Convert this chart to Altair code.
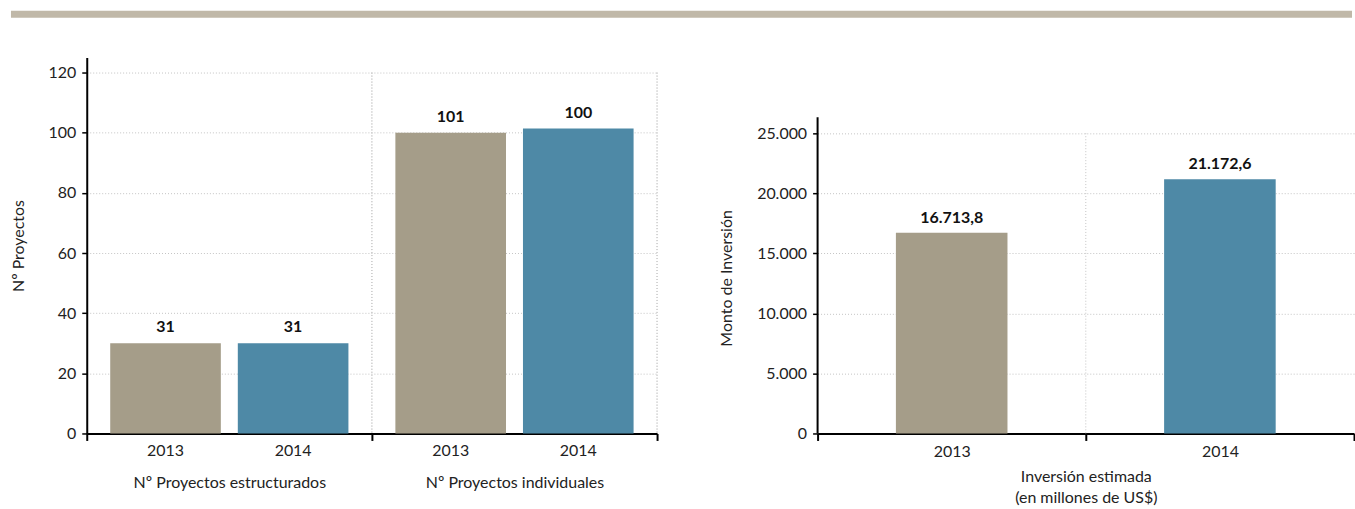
import altair as alt
import pandas as pd

# ---------------- data ----------------
proj_groups = ["Nº Proyectos estructurados", "Nº Proyectos estructurados",
               "Nº Proyectos individuales", "Nº Proyectos individuales"]
proj_years = ["2013", "2014", "2013", "2014"]
proj_values = [30, 30, 100, 101.4]          # bar heights as drawn
proj_labels = ["31", "31", "101", "100"]    # printed labels
proj_ticks = [0, 20, 40, 60, 80, 100, 120]

inv_years = ["2013", "2014"]
inv_values = [16713.8, 21172.6]
inv_labels = ["16.713,8", "21.172,6"]
inv_ticks = [0, 5000, 10000, 15000, 20000, 25000]

FONT = "Lato"
C2013 = "#a59d89"
C2014 = "#4e89a6"
GRID = "#c4c4c4"
BAND = "#c0b8a8"
TXT = "#222222"

proj_df = pd.DataFrame({"group": proj_groups, "year": proj_years,
                        "value": proj_values, "label": proj_labels})
inv_df = pd.DataFrame({"year": inv_years, "value": inv_values, "label": inv_labels})

color_scale = alt.Scale(domain=["2013", "2014"], range=[C2013, C2014])

# ---------------- left chart ----------------
xl_scale = alt.Scale(paddingInner=0, paddingOuter=0)
xl_axis = alt.Axis(title=None, tickBand="extent", domainColor="black",
                   domainWidth=2, tickColor="black", tickWidth=2, tickSize=7,
                   labelPadding=34, labelAngle=0, labelLimit=400, grid=False)
yl_scale = alt.Scale(domain=[0, 125], nice=False)
yl_axis = alt.Axis(values=proj_ticks, title="Nº Proyectos", domainColor="black",
                   domainWidth=2, tickColor="black", tickSize=5, tickWidth=1.5,
                   labelPadding=6, titlePadding=22, grid=True,
                   gridColor=GRID, gridDash=[1, 2])

x_left = alt.X("group:N", scale=xl_scale, axis=xl_axis)
xoff_left = alt.XOffset("year:N", scale=alt.Scale(paddingInner=0.133, paddingOuter=0.184))
y_left = alt.Y("value:Q", scale=yl_scale, axis=yl_axis)

left_bars = alt.Chart(proj_df).mark_bar().encode(
    x=x_left, xOffset=xoff_left, y=y_left,
    color=alt.Color("year:N", scale=color_scale, legend=None))

left_vals = alt.Chart(proj_df).mark_text(fontWeight="bold", fontSize=16,
                                         baseline="alphabetic", dy=-11, color="#111").encode(
    x=x_left, xOffset=xoff_left, y=y_left, text="label:N")

left_years = alt.Chart(proj_df).mark_text(fontSize=16, baseline="middle", color=TXT).encode(
    x=x_left, xOffset=xoff_left, y=alt.value(395), text="year:N")

left_sep = alt.Chart(proj_df).mark_rule(color=GRID, strokeDash=[1, 2]).encode(
    x=alt.X("group:N", bandPosition=1, scale=xl_scale, axis=xl_axis),
    y=alt.datum(120), y2=alt.datum(0))

left = alt.layer(left_bars, left_sep, left_vals, left_years).properties(width=572, height=377)

# ---------------- right chart ----------------
xr_scale = alt.Scale(paddingInner=0, paddingOuter=0)
xr_axis = alt.Axis(title=["Inversión estimada", "(en millones de US$)"],
                   tickBand="extent", domainColor="black", domainWidth=2,
                   tickColor="black", tickWidth=2, tickSize=7, labelPadding=3,
                   labelAngle=0, titlePadding=9, titleFontSize=16,
                   titleLineHeight=21, grid=False)
yr_scale = alt.Scale(domain=[0, 31300], nice=False)
yr_axis = alt.Axis(values=inv_ticks, title="Monto de Inversión", domain=False,
                   labelExpr="replace(format(datum.value, ','), ',', '.')",
                   tickColor="black", tickSize=5, tickWidth=1.5, labelPadding=6,
                   titlePadding=22, titleY=221, grid=True, gridColor=GRID,
                   gridDash=[1, 2])
x_right = alt.X("year:N", scale=xr_scale, axis=xr_axis)
y_right = alt.Y("value:Q", scale=yr_scale, axis=yr_axis)

right_bars = alt.Chart(inv_df).mark_bar(width=alt.RelativeBandSize(0.416)).encode(
    x=x_right, y=y_right,
    color=alt.Color("year:N", scale=color_scale, legend=None))

right_vals = alt.Chart(inv_df).mark_text(fontWeight="bold", fontSize=16,
                                         baseline="alphabetic", dy=-10, color="#111").encode(
    x=x_right, y=y_right, text="label:N")

right_sep = alt.Chart(inv_df).transform_filter("datum.year == '2013'").mark_rule(
    color=GRID, strokeDash=[1, 2]).encode(
    x=alt.X("year:N", bandPosition=1, scale=xr_scale, axis=xr_axis),
    y=alt.datum(25000), y2=alt.datum(0))

right_axisline = alt.Chart(pd.DataFrame({"v": [0]})).mark_rule(
    color="black", strokeWidth=2).encode(
    x=alt.value(0), y=alt.datum(0), y2=alt.datum(26330))

right = alt.layer(right_bars, right_sep, right_vals, right_axisline).properties(
    width=538, height=377)

# ---------------- top band (decoration) ----------------
band = alt.Chart(pd.DataFrame({"v": [0]})).mark_rect(color=BAND).encode(
    x=alt.value(-76), x2=alt.value(1269), y=alt.value(0), y2=alt.value(7)
).properties(width=1190, height=7)

chart = alt.vconcat(
    band,
    alt.hconcat(left, right, spacing=60),
    spacing=40,
).properties(
    padding={"left": 10, "top": 10, "right": 0, "bottom": 0}
).configure(font=FONT).configure_view(stroke=None).configure_axis(
    labelFontSize=16, titleFontSize=16, titleFontWeight="normal",
    labelColor=TXT, titleColor=TXT, labelFont=FONT, titleFont=FONT
)

chart.save("out.html", embed_options={"renderer": "svg", "actions": False})
